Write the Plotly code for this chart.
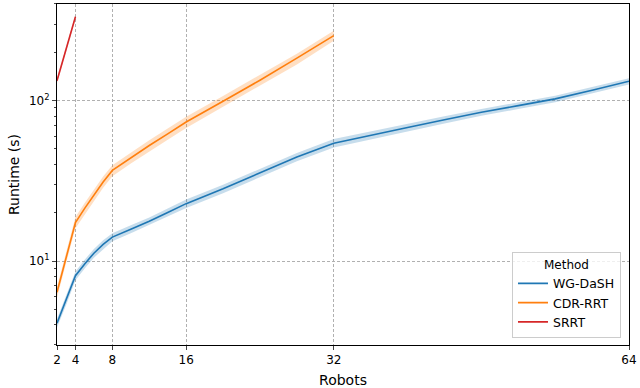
import plotly.graph_objects as go

# runtime (s) vs number of robots
wg_x = [2, 3, 4, 5, 6, 7, 8, 10, 12, 14, 16, 20, 24, 28, 32, 36, 40, 44, 48, 52, 56, 60, 64]
wg_y = [4.1, 5.7, 8.1, 9.6, 11.2, 12.7, 14.1, 15.8, 17.7, 20.1, 22.8, 28.2, 35.5, 44.5, 54.3,
        61, 68, 76, 84.6, 93, 102.5, 116, 132]
wg_lo = [3.85, 5.35, 7.6, 9.0, 10.5, 11.9, 13.3, 14.9, 16.7, 18.9, 21.4, 26.5, 33.4, 41.9, 51.0,
         57.5, 64.2, 72, 80.5, 88.5, 97.6, 110.5, 126]
wg_hi = [4.35, 6.05, 8.6, 10.2, 11.9, 13.5, 14.9, 16.7, 18.7, 21.3, 24.2, 29.9, 37.6, 47.1, 57.6,
         64.5, 71.8, 80, 88.7, 97.5, 107.4, 121.5, 138]

cdr_x = [2, 3, 4, 5, 6, 7, 8, 10, 12, 14, 16, 20, 24, 28, 32]
cdr_y = [6.4, 10.6, 17.4, 21.3, 25.7, 31.1, 36.7, 44, 52.5, 62, 73.5, 99, 134, 184, 254]
cdr_lo = [5.9, 9.8, 16.0, 19.6, 23.6, 28.6, 33.8, 40.5, 48.3, 57, 67.6, 91, 124, 168, 236]
cdr_hi = [6.9, 11.4, 18.8, 23.0, 27.8, 33.6, 39.6, 47.5, 56.7, 67, 79.4, 107, 144, 196, 272]

srrt_x = [2, 3, 4]
srrt_y = [133, 210, 333]
srrt_lo = [129, 204, 323]
srrt_hi = [137, 216, 343]

x_ticks = [2, 4, 8, 16, 32, 64]

series = [
    ("WG-DaSH", wg_x, wg_y, wg_lo, wg_hi, "#1f77b4", "rgba(31,119,180,0.25)"),
    ("CDR-RRT", cdr_x, cdr_y, cdr_lo, cdr_hi, "#ff7f0e", "rgba(255,127,14,0.25)"),
    ("SRRT", srrt_x, srrt_y, srrt_lo, srrt_hi, "#d62728", "rgba(214,39,40,0.25)"),
]

fig = go.Figure()
for name, x, y, lo, hi, col, band in series:
    fig.add_trace(go.Scatter(
        x=x + x[::-1], y=hi + lo[::-1], mode="lines", fill="toself", fillcolor=band,
        line=dict(width=0), hoverinfo="skip", showlegend=False,
    ))
    fig.add_trace(go.Scatter(x=x, y=y, mode="lines", name=name,
                             line=dict(color=col, width=1.6)))

grid = dict(showgrid=True, gridcolor="#b0b0b0", griddash="3px,2px", gridwidth=0.8)

fig.update_layout(
    width=640, height=388,
    margin=dict(l=57, r=8, t=3, b=43),
    plot_bgcolor="white", paper_bgcolor="white",
    font=dict(family="DejaVu Sans", size=12, color="black"),
    xaxis=dict(
        range=[2, 64], tickvals=x_ticks, ticks="outside", ticklen=4,
        showline=True, linecolor="black", linewidth=1, mirror=True,
        title=dict(text="Robots", standoff=8), zeroline=False, **grid,
    ),
    yaxis=dict(
        type="log", range=[0.477, 2.602], tickvals=[10, 100],
        ticktext=["10<sup>1</sup>", "10<sup>2</sup>"], ticks="outside", ticklen=4,
        minor=dict(ticks="outside", ticklen=2, dtick="D1", showgrid=False),
        showline=True, linecolor="black", linewidth=1, mirror=True,
        title=dict(text="Runtime (s)", standoff=6), zeroline=False, **grid,
    ),
    legend=dict(
        title=dict(text="Method", side="top center", font=dict(size=12)),
        x=0.986, y=0.02, xanchor="right", yanchor="bottom",
        bgcolor="rgba(255,255,255,0.8)", bordercolor="#cccccc", borderwidth=1,
        font=dict(size=12.5), tracegroupgap=4,
    ),
)

fig.write_html("out.html", config={"displayModeBar": False},
               post_script="document.body.style.margin='0';")
